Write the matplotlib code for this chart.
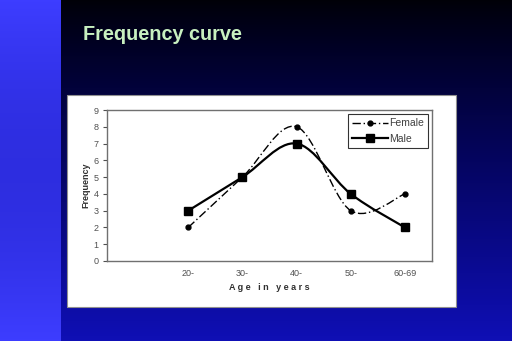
import matplotlib
matplotlib.use('Agg')
import matplotlib.pyplot as plt
import numpy as np
from matplotlib.path import Path
from matplotlib.patches import PathPatch, Rectangle
from matplotlib.lines import Line2D

plt.rcParams['font.family'] = ['Liberation Sans', 'DejaVu Sans']

ages = ['', '20-', '30-', '40-', '50-', '60-69']
female = [2, 5, 8, 3, 4]
male = [3, 5, 7, 4, 2]


def smooth_path(xs, ys):
    # excel style smoothed line: bezier segments through the points
    pts = np.column_stack([xs, ys]).astype(float)
    n = len(pts)
    verts = [pts[0]]
    codes = [Path.MOVETO]
    for i in range(n - 1):
        p0 = pts[max(i - 1, 0)]
        p1 = pts[i]
        p2 = pts[i + 1]
        p3 = pts[min(i + 2, n - 1)]
        verts += [p1 + (p2 - p0) / 6, p2 - (p3 - p1) / 6, p2]
        codes += [Path.CURVE4] * 3
    return Path(verts, codes)


fig = plt.figure(figsize=(5.12, 3.41), dpi=100)

# slide background
bg = fig.add_axes([0, 0, 1, 1])
bg.set_zorder(-5)
bg.set_axis_off()
grad = np.linspace(0, 1, 256)[:, None]
main = np.zeros((256, 1, 3))
main[:, 0, 0] = 0.06 * grad[:, 0] ** 1.5
main[:, 0, 1] = 0.06 * grad[:, 0] ** 1.5
main[:, 0, 2] = 0.03 + 0.68 * grad[:, 0] ** 0.9
bg.imshow(main, extent=[0, 1, 0, 1], aspect='auto', origin='upper')
band = np.zeros((256, 1, 3))
band[:, 0, 0] = 0.24 - 0.06 * np.sin(grad[:, 0] * np.pi)
band[:, 0, 1] = 0.24 - 0.06 * np.sin(grad[:, 0] * np.pi)
band[:, 0, 2] = 1.0 - 0.12 * np.sin(grad[:, 0] * np.pi)
bg.imshow(band, extent=[0, 61 / 512, 0, 1], aspect='auto', origin='upper')
# white chart panel
bg.add_patch(Rectangle((67 / 512, 1 - 307 / 341), 389 / 512, 212 / 341,
                       facecolor='white', edgecolor='#909090', linewidth=0.8))
bg.set_xlim(0, 1)
bg.set_ylim(0, 1)

fig.text(83 / 512, 1 - 34 / 341, 'Frequency curve', color='#c8f0c0',
         fontsize=14.3, fontweight='bold', va='center', ha='left')

ax = fig.add_axes([107 / 512, 1 - 261 / 341, 325 / 512, 151 / 341])
ax.set_facecolor('white')
x = np.arange(1, 6)

ax.add_patch(PathPatch(smooth_path(x, female), facecolor='none', edgecolor='black',
                       linewidth=1.0, linestyle=(0, (6, 2, 1, 2))))
ax.plot(x, female, linestyle='none', marker='o', markersize=3.5, color='black')
ax.add_patch(PathPatch(smooth_path(x, male), facecolor='none', edgecolor='black',
                       linewidth=1.6))
ax.plot(x, male, linestyle='none', marker='s', markersize=6, color='black')

ax.set_xlim(-0.5, 5.5)
ax.set_ylim(0, 9)
ax.set_xticks(range(len(ages)))
ax.set_xticklabels(ages)
ax.set_yticks(range(10))
ax.tick_params(axis='x', length=0, labelsize=6.5, colors='#505050', pad=6)
ax.tick_params(axis='y', length=3, width=0.8, labelsize=6.5, colors='#505050', pad=3)
for s in ax.spines.values():
    s.set_color('#707070')
    s.set_linewidth(1.0)

ax.set_xlabel('A g e   i n   y e a r s', fontsize=6.5, fontweight='bold',
              color='#303030', labelpad=3)
ax.set_ylabel('Frequency', fontsize=6.5, fontweight='bold', color='#303030', labelpad=2)

handles = [Line2D([], [], color='black', linewidth=1.0, linestyle=(0, (6, 2, 1, 2)),
                  marker='o', markersize=3.5),
           Line2D([], [], color='black', linewidth=1.6, marker='s', markersize=6)]
leg = ax.legend(handles, ['Female', 'Male'], loc='upper right', fontsize=7.5,
                frameon=True, fancybox=False, edgecolor='black', handlelength=3.4,
                borderaxespad=0.4, labelspacing=0.5, handletextpad=0.1,
                borderpad=0.4, labelcolor='#404040')
leg.get_frame().set_linewidth(0.8)

fig.savefig('out.png', dpi=100)
